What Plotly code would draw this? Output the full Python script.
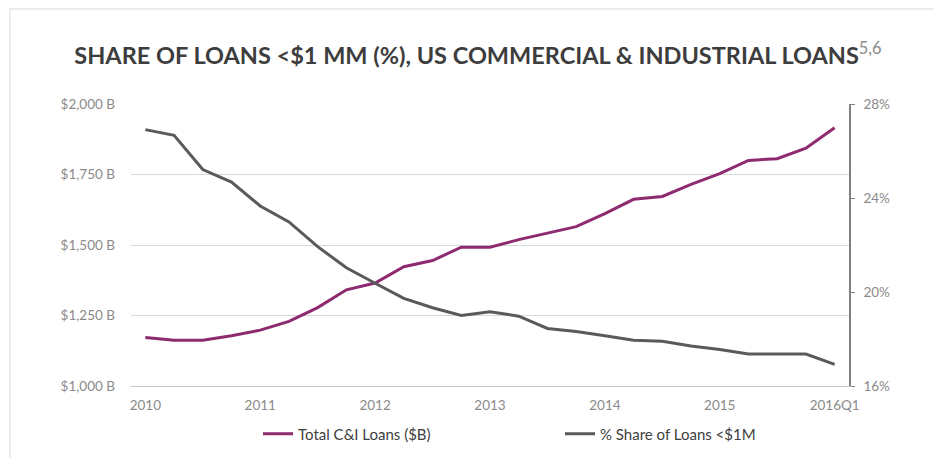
import plotly.graph_objects as go

quarters = [f"{y}Q{q}" for y in range(2010, 2016) for q in range(1, 5)] + ["2016Q1"]
tick_quarters = ["2010Q1", "2011Q1", "2012Q1", "2013Q1", "2014Q1", "2015Q1", "2016Q1"]
tick_labels = ["2010", "2011", "2012", "2013", "2014", "2015", "2016Q1"]

total_loans_b = [1172, 1162, 1162, 1178, 1198, 1229, 1278, 1341, 1365, 1423, 1445, 1492, 1492,
                 1519, 1542, 1565, 1611, 1662, 1672, 1715, 1753, 1800, 1806, 1843, 1916]
share_small_pct = [26.91, 26.67, 25.21, 24.68, 23.66, 22.98, 21.93, 21.03, 20.37, 19.73, 19.33,
                   19.0, 19.16, 18.97, 18.45, 18.32, 18.14, 17.95, 17.90, 17.70, 17.55, 17.36,
                   17.36, 17.36, 16.92]

PURPLE = "#8e2a70"
GRAY = "#5a5a5a"
TICK = "#8a8a8a"
FONT = "Lato"

# page body has an 8px default margin; figure sized to fit inside the 941x466 window
W, H = 925, 450
L, R, T, B = 123, 84, 96, 72
PW, PH = W - L - R, H - T - B

fig = go.Figure()
fig.add_trace(go.Scatter(x=quarters, y=total_loans_b, name="Total C&I Loans ($B)",
                         mode="lines", line=dict(color=PURPLE, width=3), yaxis="y"))
fig.add_trace(go.Scatter(x=quarters, y=share_small_pct, name="% Share of Loans <$1M",
                         mode="lines", line=dict(color=GRAY, width=3), yaxis="y2"))

fig.update_layout(
    width=W, height=H,
    margin=dict(l=L, r=R, t=T, b=B, autoexpand=False),
    paper_bgcolor="white", plot_bgcolor="white",
    font=dict(family=FONT, size=13, color=TICK),
    title=dict(
        text="SHARE OF LOANS &lt;$1 MM (%), US COMMERCIAL &amp; INDUSTRIAL LOANS"
             "<sup><span style='color:#8a8a8a;font-weight:normal'>5,6</span></sup>",
        x=470 / W, xanchor="center", y=1 - 48 / H, yanchor="middle",
        font=dict(family=FONT, size=23.5, color="#3d3d3d", weight="bold"),
    ),
    xaxis=dict(
        type="category", categoryorder="array", categoryarray=quarters,
        range=[-0.5, len(quarters) - 0.5],
        tickvals=tick_quarters, ticktext=tick_labels,
        showgrid=False, showline=True, linecolor="#c8c8c8", linewidth=1,
        ticks="", tickfont=dict(size=13.5, color=TICK), zeroline=False,
        ticklabelstandoff=7,
    ),
    yaxis=dict(
        range=[1000, 2000], tickmode="linear", tick0=1000, dtick=250,
        tickprefix="$", ticksuffix=" B", tickformat=",.0f",
        showtickprefix="all", showticksuffix="all",
        showgrid=True, gridcolor="#d9d9d9", gridwidth=1, zeroline=False,
        showline=False, ticks="", ticklabelstandoff=15,
        tickfont=dict(size=13.5, color=TICK),
    ),
    yaxis2=dict(
        overlaying="y", side="right", range=[16, 28], tickmode="linear", tick0=16, dtick=4,
        ticksuffix="%", showticksuffix="all", showgrid=False, zeroline=False,
        showline=True, linecolor="#808080", linewidth=1.5,
        ticks="outside", ticklen=4, tickcolor="#808080", ticklabelstandoff=6,
        tickfont=dict(size=13.5, color=TICK),
    ),
    legend=dict(
        orientation="h", x=(250 - L) / PW, xanchor="left", y=-48 / PH, yanchor="middle",
        font=dict(size=15, color="#404040"), itemwidth=30, entrywidth=257,
        bgcolor="rgba(0,0,0,0)",
    ),
    showlegend=True,
    shapes=[dict(
        type="path", xref="paper", yref="paper",
        path=f"M {(2 - L) / PW} -0.5 L {(2 - L) / PW} {(PH + T - 1) / PH} L 1.3 {(PH + T - 1) / PH}",
        line=dict(color="#ececec", width=2), layer="below",
    )],
)

fig.write_html("out.html")
